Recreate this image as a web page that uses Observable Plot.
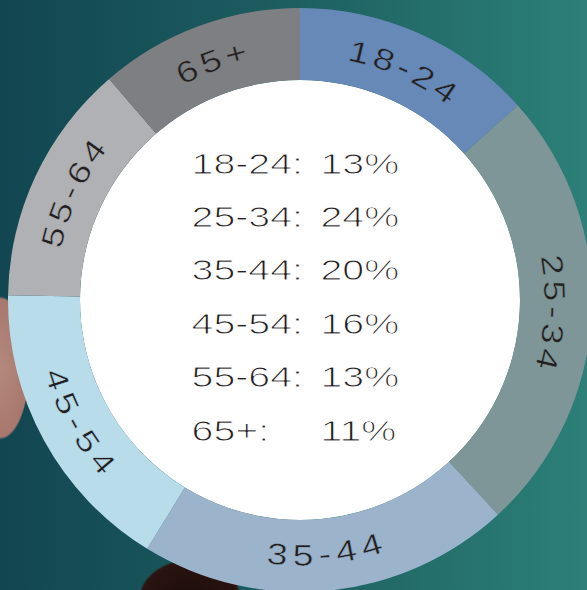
<!DOCTYPE html>
<html><head><meta charset="utf-8">
<script src="https://cdn.jsdelivr.net/npm/d3@7"></script>
<script src="https://cdn.jsdelivr.net/npm/@observablehq/plot@0.6"></script>
<style>
html,body{margin:0;padding:0;background:#1b5a5c;}
#chart{width:587px;height:590px;overflow:hidden;}
#chart svg{display:block;}
</style></head><body><div id="chart"></div>
<script>
// ---- data ----
const ages = ["18-24", "25-34", "35-44", "45-54", "55-64", "65+"];
const shares = [13, 24, 20, 16, 13, 11];
const sliceColors = ["#6789b8", "#7f9698", "#9bb4cb", "#b8dcea", "#b0b1b5", "#7e7f82"];
const centerLabels = ["18-24:", "25-34:", "35-44:", "45-54:", "55-64:", "65+:"];
const centerValues = ["13%", "24%", "20%", "16%", "13%", "11%"];

const rows = ages.map((age, i) => ({age, share: shares[i], label: centerLabels[i], pct: centerValues[i], i}));

// ---- layout ----
const W = 587, H = 590;
const INNER = 220 / 292;           // inner radius / outer radius
const LABEL_X = -0.373, PCT_X = 0.0685;
const ROW_Y0 = 0.4349, ROW_STEP = 0.1829;
const TEXT_SX = 1.31;

const color = Plot.scale({color: {type: "ordinal", domain: ages, range: sliceColors}});
const arcs = d3.pie().sort(null).value(d => d.share)(rows);

const glyphW = {"0": .556, "1": .556, "2": .556, "3": .556, "4": .556, "5": .556, "6": .556, "7": .556, "8": .556, "9": .556, "-": .333, "+": .584};

function donut(index, scales) {
  const x = scales.x, y = scales.y;
  const cx = x(0), cy = y(0), R = x(1) - cx, r0 = x(INNER) - cx;
  const g = d3.create("svg:g");
  g.append("circle").attr("cx", cx).attr("cy", cy).attr("r", r0).attr("fill", "#ffffff");
  const arc = d3.arc().innerRadius(r0).outerRadius(R);
  g.append("g").attr("transform", `translate(${cx},${cy})`)
    .selectAll("path").data(arcs).join("path")
    .attr("d", arc)
    .attr("fill", d => color.apply(d.data.age));
  const rm = (R + r0) / 2 - 1, fs = 30, sx = 1.25, ls = 5;
  const lg = g.append("g")
    .attr("font-family", "'Liberation Sans', Arial, sans-serif")
    .attr("font-size", fs).attr("fill", "#231f20")
    .attr("text-anchor", "middle").attr("dominant-baseline", "central");
  for (const a of arcs) {
    const mid = (a.startAngle + a.endAngle) / 2;
    const deg = mid * 180 / Math.PI;
    const flip = deg > 100 && deg < 260;
    const dir = flip ? -1 : 1;
    const chars = [...a.data.age];
    const widths = chars.map(c => glyphW[c] * fs * sx);
    const total = d3.sum(widths) + ls * (chars.length - 1);
    let s = -total / 2;
    chars.forEach((c, k) => {
      const sc = s + widths[k] / 2;
      s += widths[k] + ls;
      const ang = mid + dir * sc / rm;
      const px = cx + rm * Math.sin(ang), py = cy - rm * Math.cos(ang);
      const rot = ang * 180 / Math.PI - (flip ? 180 : 0);
      lg.append("text")
        .attr("transform", `translate(${px.toFixed(2)},${py.toFixed(2)}) rotate(${rot.toFixed(2)}) scale(${sx},1)`)
        .attr("stroke", color.apply(a.data.age)).attr("stroke-width", 0.5)
        .text(c);
    });
  }
  return g.node();
}

const textStyle = {
  textAnchor: "start", lineAnchor: "bottom", fontSize: 30,
  fontFamily: "'Liberation Sans', Arial, sans-serif", fill: "#231f20",
  stroke: "#ffffff", strokeWidth: 0.9, paintOrder: "normal"
};

const chart = Plot.plot({
  width: W, height: H,
  margin: 0,
  x: {domain: [-1, 1], range: [8, 592], axis: null},
  y: {domain: [-1, 1], range: [592, 8], axis: null},
  style: {
    background: "radial-gradient(ellipse 38px 92px at 0px 368px, #b4897e 0%, #a8776e 75%, rgba(0,0,0,0) 78%), radial-gradient(ellipse 70px 55px at 190px 600px, #1c0d0b 0%, #2a1310 70%, rgba(0,0,0,0) 74%), linear-gradient(90deg, #124651 0%, #1c5c5f 45%, #2c8078 100%)",
    overflow: "hidden"
  },
  marks: [
    donut,
    Plot.text(rows, {x: () => LABEL_X, y: d => ROW_Y0 - d.i * ROW_STEP, text: "label", ...textStyle}),
    Plot.text(rows, {x: () => PCT_X, y: d => ROW_Y0 - d.i * ROW_STEP, text: "pct", ...textStyle})
  ]
});

// widen the centre text horizontally (extended face)
chart.querySelectorAll('g[aria-label="text"] text').forEach(t => {
  let tr = t.getAttribute("transform");
  if (!tr) {
    const x = t.getAttribute("x") || 0, y = t.getAttribute("y") || 0;
    tr = `translate(${x},${y})`;
    t.removeAttribute("x");
  }
  t.setAttribute("transform", tr + ` scale(${TEXT_SX},1)`);
});

document.getElementById("chart").appendChild(chart);
</script>
</body></html>
